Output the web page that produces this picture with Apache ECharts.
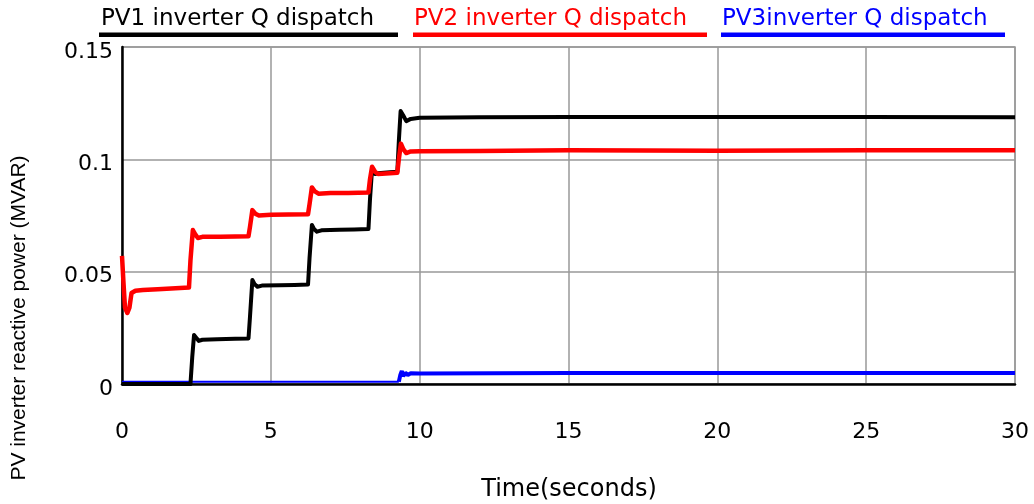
<!DOCTYPE html>
<html>
<head>
<meta charset="utf-8">
<script src="https://cdn.jsdelivr.net/npm/echarts@6/dist/echarts.min.js"></script>
<style>html,body{margin:0;padding:0;background:#fff}#c{width:1034px;height:504px}</style>
</head>
<body>
<div id="c"></div>
<script>
var seriesNames = ['PV1 inverter Q dispatch', 'PV2 inverter Q dispatch', 'PV3inverter Q dispatch'];
var xTicks = [0, 5, 10, 15, 20, 25, 30];
var yTicks = [0, 0.05, 0.1, 0.15];
var xTitle = 'Time(seconds)';
var yTitle = 'PV inverter reactive power (MVAR)';

// PV1 inverter Q (black) [time s, MVAR]
var pv1 = [[0,0],[2.3,0],[2.36,0.012],[2.42,0.0218],[2.5,0.0205],[2.58,0.0192],[2.7,0.0197],[3.2,0.0199],[3.8,0.0201],[4.25,0.0203],
  [4.3,0.03],[4.38,0.0463],[4.45,0.0445],[4.55,0.0433],[4.7,0.0438],[5.3,0.044],[5.8,0.0441],[6.25,0.0443],
  [6.3,0.056],[6.38,0.0708],[6.45,0.069],[6.55,0.0678],[6.7,0.0684],[7.3,0.0687],[7.8,0.0688],[8.28,0.069],
  [8.33,0.082],[8.4,0.0955],[8.5,0.0935],[8.6,0.0938],[9.0,0.0942],[9.25,0.0945],
  [9.3,0.108],[9.36,0.1215],[9.45,0.1195],[9.55,0.117],[9.7,0.118],[10,0.1185],[12,0.1187],[15,0.1188],[20,0.1188],[25,0.1188],[30,0.1187]];
// PV2 inverter Q (red)
var pv2 = [[0,0.057],[0.05,0.045],[0.1,0.034],[0.18,0.0316],[0.25,0.034],[0.32,0.0405],[0.45,0.0415],[0.7,0.0418],[1.2,0.0422],[1.8,0.0426],[2.25,0.0429],
  [2.3,0.055],[2.38,0.0685],[2.45,0.0668],[2.55,0.065],[2.7,0.0655],[3.3,0.0655],[3.8,0.0656],[4.25,0.0658],
  [4.3,0.07],[4.38,0.0774],[4.48,0.0758],[4.6,0.075],[5,0.0753],[5.6,0.0754],[6.25,0.0756],
  [6.3,0.08],[6.38,0.0875],[6.48,0.0857],[6.6,0.0847],[7,0.085],[7.6,0.085],[8.28,0.0852],
  [8.33,0.091],[8.4,0.0967],[8.5,0.0945],[8.6,0.0935],[9,0.0938],[9.25,0.094],
  [9.3,0.1],[9.37,0.107],[9.45,0.1045],[9.55,0.1028],[9.7,0.1035],[10,0.1036],[12,0.1037],[15,0.104],[20,0.1038],[25,0.104],[30,0.104]];
// PV3 inverter Q (blue), before and after the 9.3 s step
var pv3Before = [[0,0.001],[9.3,0.001]];
var pv3After = [[9.3,0.001],[9.35,0.004],[9.4,0.0058],[9.45,0.0035],[9.52,0.005],[9.6,0.004],[9.7,0.0048],[10,0.0047],[15,0.0049],[20,0.0049],[25,0.0049],[30,0.0049]];

var colors = ['#000000', '#ff0000', '#0000ff'];
var legendX = [101, 414, 722];
var legendLineX = [[99, 398], [413, 707], [721, 1005]];

var FONT = '"DejaVu Sans", sans-serif';
var chart = echarts.init(document.getElementById('c'), null, {renderer: 'canvas'});

var graphics = [];
for (var i = 0; i < 3; i++) {
  graphics.push({type: 'text', style: {x: legendX[i], y: 19.5, text: seriesNames[i], fill: colors[i], font: '23px ' + FONT, textVerticalAlign: 'middle', textAlign: 'left'}});
  graphics.push({type: 'rect', shape: {x: legendLineX[i][0], y: 32.5, width: legendLineX[i][1] - legendLineX[i][0], height: 4.5}, style: {fill: colors[i]}});
}
graphics.push({type: 'text', style: {x: 569, y: 490, text: xTitle, fill: '#000', font: '24px ' + FONT, textAlign: 'center', textVerticalAlign: 'middle'}});
graphics.push({type: 'text', x: 19, y: 318, rotation: Math.PI / 2, style: {x: 0, y: 0, text: yTitle, fill: '#000', font: '21px "Liberation Sans", Arial, sans-serif', textAlign: 'center', textVerticalAlign: 'middle'}});

chart.setOption({
  animation: false,
  backgroundColor: '#fff',
  grid: {left: 122, right: 19, top: 47, bottom: 120, show: true, borderColor: '#999', borderWidth: 1.5},
  xAxis: {
    type: 'value', min: xTicks[0], max: xTicks[xTicks.length - 1], interval: 5,
    axisLine: {show: true, onZero: false, lineStyle: {color: '#000', width: 2.5}},
    axisTick: {show: false},
    splitLine: {show: true, lineStyle: {color: '#999', width: 1.5}},
    axisLabel: {fontFamily: FONT, fontSize: 22, color: '#000', margin: 37}
  },
  yAxis: {
    type: 'value', min: yTicks[0], max: yTicks[yTicks.length - 1], interval: 0.05,
    axisLine: {show: true, lineStyle: {color: '#000', width: 2.5}},
    axisTick: {show: false},
    splitLine: {show: true, lineStyle: {color: '#999', width: 1.5}},
    axisLabel: {fontFamily: FONT, fontSize: 22, color: '#000', margin: 9, verticalAlign: 'top', lineHeight: 10,
      formatter: function (v) { return v === 0 ? '0' : String(Math.round(v * 100) / 100); }}
  },
  series: [
    {name: seriesNames[2], type: 'line', data: pv3Before, showSymbol: false, lineStyle: {color: colors[2], width: 2}, z: 2},
    {name: seriesNames[2], type: 'line', data: pv3After, showSymbol: false, lineStyle: {color: colors[2], width: 4}, z: 2},
    {name: seriesNames[0], type: 'line', data: pv1, showSymbol: false, lineStyle: {color: colors[0], width: 4, join: 'round'}, z: 3},
    {name: seriesNames[1], type: 'line', data: pv2, showSymbol: false, lineStyle: {color: colors[1], width: 4.5, join: 'round'}, z: 4}
  ],
  graphic: graphics
});
</script>
</body>
</html>
